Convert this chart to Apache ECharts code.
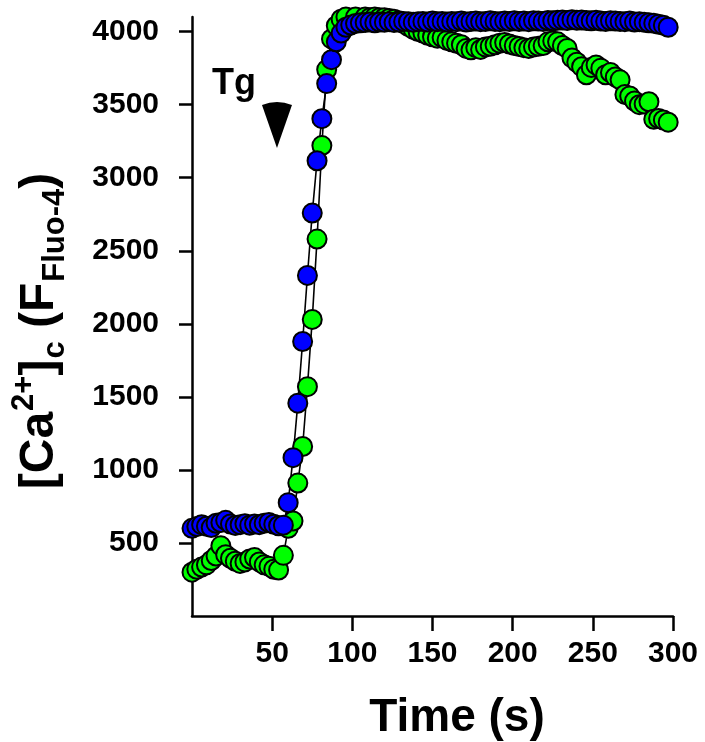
<!DOCTYPE html>
<html>
<head>
<meta charset="utf-8">
<script src="https://cdn.jsdelivr.net/npm/echarts@6/dist/echarts.min.js"></script>
<style>html,body{margin:0;padding:0;background:#fff}#c{width:705px;height:742px}</style>
</head>
<body>
<div id="c"></div>
<script>
const timeS = [0,3,6,9,12,15,18,21,24,27,30,33,36,39,42,45,48,51,54,57,60,63,66,69,72,75,78,81,84,87,90,93,96,99,102,105,108,111,114,117,120,123,126,129,132,135,138,141,144,147,150,153,156,159,162,165,168,171,174,177,180,183,186,189,192,195,198,201,204,207,210,213,216,219,222,225,228,231,234,237,240,243,246,249,252,255,258,261,264,267,270,273,276,279,282,285,288,291,294,297];
const greenVals = [300,320,335,350,380,410,480,420,395,375,360,370,390,400,370,350,340,320,315,415,600,650,910,1160,1570,2030,2580,3220,3740,3950,4040,4085,4100,4105,4100,4105,4100,4095,4100,4095,4095,4090,4085,4075,4055,4035,4015,4000,3990,3975,3965,3955,3960,3940,3930,3920,3910,3885,3875,3890,3878,3895,3900,3910,3920,3925,3915,3905,3898,3890,3885,3895,3900,3905,3930,3935,3930,3905,3885,3820,3790,3760,3705,3755,3772,3750,3705,3720,3690,3670,3570,3560,3525,3500,3505,3520,3400,3405,3395,3380];
const blueVals = [600,612,625,615,605,635,640,655,630,620,625,632,622,630,625,635,640,628,618,622,776,1084,1457,1879,2331,2758,3116,3404,3644,3808,3930,3990,4030,4045,4055,4060,4062,4065,4060,4066,4064,4068,4062,4066,4070,4068,4064,4068,4070,4066,4072,4068,4070,4065,4070,4068,4072,4066,4070,4072,4068,4070,4074,4070,4068,4072,4070,4074,4070,4072,4068,4074,4072,4070,4076,4074,4078,4080,4076,4082,4078,4080,4076,4074,4078,4072,4070,4074,4072,4070,4068,4072,4066,4068,4064,4060,4058,4050,4044,4030];
const xTicks = [50,100,150,200,250,300];
const yTicks = [500,1000,1500,2000,2500,3000,3500,4000];
const tgArrow = [53, 3360];

const chart = echarts.init(document.getElementById('c'), null, {renderer:'canvas'});
const FONT = '"Liberation Sans", Arial, sans-serif';
const mk = (vals) => timeS.map((t,i)=>[t, vals[i]]);
const plain = v => String(v);
chart.setOption({
  animation:false,
  backgroundColor:'#fff',
  grid:{left:192,right:32,top:17,bottom:126,outerBoundsMode:'none'},
  xAxis:{type:'value',min:0,max:300,interval:50,
    axisLine:{show:true,onZero:false,lineStyle:{color:'#000',width:2.5}},
    axisTick:{show:true,length:15,inside:false,customValues:xTicks,lineStyle:{color:'#000',width:2.5}},
    axisLabel:{customValues:xTicks,formatter:plain,margin:23,color:'#000',fontSize:30,fontWeight:'bold',fontFamily:FONT},
    splitLine:{show:false}},
  yAxis:{type:'value',min:0,max:4100,interval:500,
    axisLine:{show:true,onZero:false,lineStyle:{color:'#000',width:2.5}},
    axisTick:{show:true,length:13,inside:false,customValues:yTicks,lineStyle:{color:'#000',width:2.5}},
    axisLabel:{customValues:yTicks,formatter:plain,margin:33,color:'#000',fontSize:30,fontWeight:'bold',fontFamily:FONT},
    splitLine:{show:false}},
  series:[
    {type:'line',data:mk(greenVals),symbol:'circle',symbolSize:19,showAllSymbol:true,
     lineStyle:{color:'#000',width:1.6},
     itemStyle:{color:'#00ff00',borderColor:'#000',borderWidth:2},
     markPoint:{symbol:'path://M0,4 Q15,-2 30,4 L15,48 Z',symbolSize:[30,46],silent:true,
       itemStyle:{color:'#000'},label:{show:false},
       data:[{coord:tgArrow}]}},
    {type:'line',data:mk(blueVals),symbol:'circle',symbolSize:19,showAllSymbol:true,
     lineStyle:{color:'#000',width:1.6},
     itemStyle:{color:'#0000ff',borderColor:'#000',borderWidth:2}}
  ],
  graphic:[
    {type:'text',left:212,top:66,style:{text:'Tg',fill:'#000',font:'bold 36px '+FONT}},
    {type:'text',x:457,y:718,style:{text:'Time (s)',fill:'#000',font:'bold 46px '+FONT,align:'center',verticalAlign:'middle'}},
    {type:'text',x:40,y:331,rotation:Math.PI/2,
     style:{align:'center',verticalAlign:'middle',fill:'#000',
       text:'{m|[Ca}{sup|2+}{m|]}{sub|c}{m| (F}{sub|Fluo-4}{m|)}',
       rich:{
         m:{fontSize:48,fontWeight:'bold',fontFamily:FONT,lineHeight:62,verticalAlign:'middle'},
         sup:{fontSize:31,fontWeight:'bold',fontFamily:FONT,lineHeight:62,verticalAlign:'top',padding:[0,0,0,1]},
         sub:{fontSize:31,fontWeight:'bold',fontFamily:FONT,lineHeight:62,verticalAlign:'bottom',padding:[0,0,0,1]}
       }}}
  ]
});
</script>
</body>
</html>
